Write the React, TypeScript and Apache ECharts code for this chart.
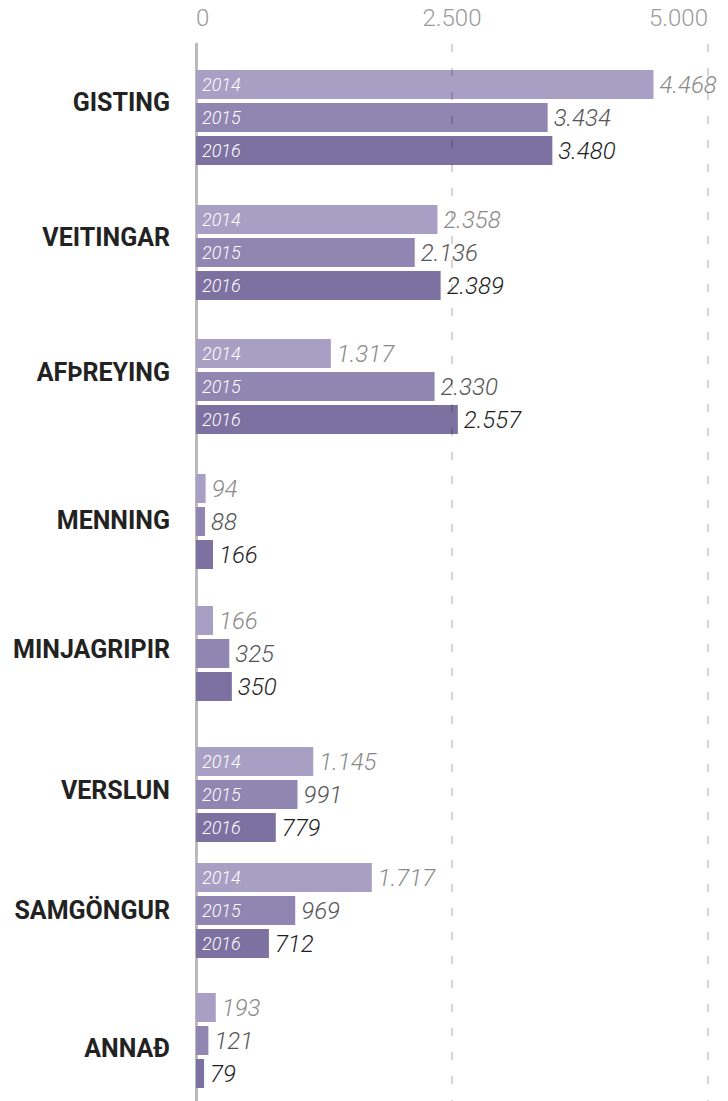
import React, { useEffect, useRef } from "react";
import * as echarts from "echarts";

const categories = ["GISTING", "VEITINGAR", "AFÞREYING", "MENNING", "MINJAGRIPIR", "VERSLUN", "SAMGÖNGUR", "ANNAÐ"];
const years = ["2014", "2015", "2016"];
const values2014 = [4468, 2358, 1317, 94, 166, 1145, 1717, 193];
const values2015 = [3434, 2136, 2330, 88, 325, 991, 969, 121];
const values2016 = [3480, 2389, 2557, 166, 350, 779, 712, 79];
const showYearLabels = [true, true, true, false, false, true, true, false];
const axisMin = 0;
const axisMax = 5000;
const axisInterval = 2500;

// layout only
const groupTops = [70, 205, 339, 474, 606, 747, 863, 993];
const labelCenters = [102, 237, 372, 520, 649, 790, 910, 1048];
const barColors = ["#a89fc4", "#9086b2", "#7c71a1"];
const valueLabelColors = ["#8a8a8a", "#555555", "#1e1e1e"];

const fmt = (v: number) => String(v).replace(/\B(?=(\d{3})+(?!\d))/g, ".");
const FONT = "Roboto";

export default function App() {
  const ref = useRef<HTMLDivElement>(null);
  useEffect(() => {
    document.body.style.margin = "0";
    if (!ref.current) return;
    const chart = echarts.init(ref.current, null, { renderer: "svg" });
    const seriesValues = [values2014, values2015, values2016];

    const grids: any[] = [{ left: 196, right: 20, top: 44, bottom: 0 }];
    const xAxes: any[] = [
      {
        gridIndex: 0,
        type: "value",
        min: axisMin,
        max: axisMax,
        interval: axisInterval,
        position: "top",
        z: 5,
        axisLine: { show: false },
        axisTick: { show: false },
        axisLabel: {
          color: "#9a9a9a",
          fontSize: 24,
          fontFamily: FONT,
          fontWeight: 300,
          margin: 14,
          formatter: (v: number) => fmt(v),
          alignMinLabel: "left",
          alignMaxLabel: "right",
        },
        splitLine: {
          show: true,
          showMinLine: false,
          lineStyle: { color: "rgba(0,0,0,0.22)", type: [8, 16], width: 1.5 },
        },
      },
    ];
    const yAxes: any[] = [
      {
        gridIndex: 0,
        type: "value",
        min: 0,
        max: 1,
        axisLine: { show: true, lineStyle: { color: "#bbbbbb", width: 3 } },
        axisTick: { show: false },
        axisLabel: { show: false },
        splitLine: { show: false },
      },
    ];
    const series: any[] = [];

    categories.forEach((cat, i) => {
      const gi = i + 1;
      grids.push({ left: 196, right: 20, top: groupTops[i] - 2, height: 99 });
      xAxes.push({ gridIndex: gi, type: "value", min: axisMin, max: axisMax, show: false });
      yAxes.push({
        gridIndex: gi,
        type: "category",
        data: years,
        inverse: true,
        z: 4,
        axisLine: { show: false },
        axisTick: { show: false },
        splitLine: { show: false },
        axisLabel: {
          show: showYearLabels[i],
          inside: true,
          margin: 6,
          color: "#ffffff",
          fontSize: 18,
          fontStyle: "italic",
          fontWeight: 300,
          fontFamily: FONT,
        },
      });
      series.push({
        type: "bar",
        name: cat,
        xAxisIndex: gi,
        yAxisIndex: gi,
        barWidth: 29,
        data: years.map((y, k) => ({
          value: seriesValues[k][i],
          itemStyle: { color: barColors[k] },
          label: { color: valueLabelColors[k] },
        })),
        label: {
          show: true,
          position: "right",
          distance: 6,
          fontSize: 24,
          fontStyle: "italic",
          fontWeight: 300,
          fontFamily: FONT,
          formatter: (p: any) => fmt(p.value),
        },
      });
    });

    const graphic = categories.map((cat, i) => ({
      type: "text",
      x: 170,
      y: labelCenters[i],
      style: {
        text: cat,
        align: "right",
        verticalAlign: "middle",
        fill: "#222222",
        font: `bold 25px ${FONT}`,
      },
    }));

    chart.setOption({
      animation: false,
      grid: grids,
      xAxis: xAxes,
      yAxis: yAxes,
      series,
      graphic,
    });
    return () => chart.dispose();
  }, []);
  return <div ref={ref} style={{ width: 728, height: 1101 }} />;
}
